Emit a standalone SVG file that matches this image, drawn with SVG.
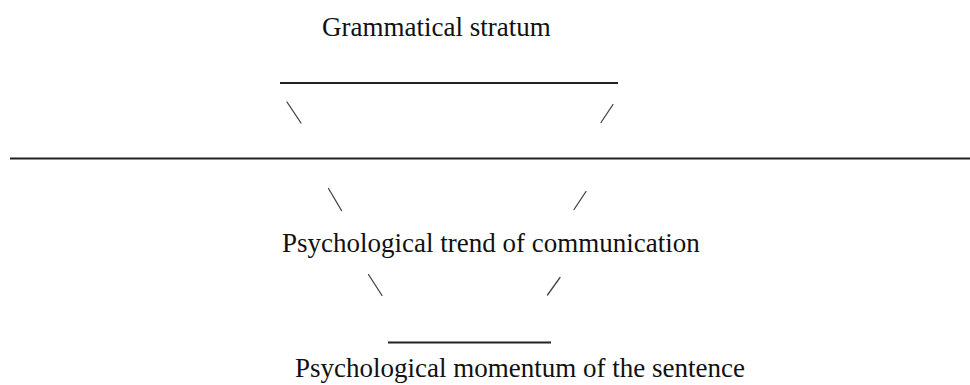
<svg xmlns="http://www.w3.org/2000/svg" width="970" height="385" viewBox="0 0 970 385">
<style>
  .t { font-family: "Liberation Serif", "Times New Roman", serif; font-size: 27px; fill: #111; }
  .rule { stroke: #222; stroke-width: 2; fill: none; }
  .slant { stroke: #444; stroke-width: 1.3; fill: none; stroke-linecap: round; }
</style>
<rect width="970" height="385" fill="#fff"/>
<g id="grammatical-stratum">
  <text class="t" x="322" y="36">Grammatical stratum</text>
  <line class="rule" x1="280" y1="83" x2="618" y2="83"/>
</g>
<g id="divider">
  <line class="rule" x1="10" y1="158.5" x2="970" y2="158.5"/>
</g>
<g id="psychological-trend">
  <text class="t" x="282" y="252">Psychological trend of communication</text>
</g>
<g id="psychological-momentum">
  <line class="rule" x1="388" y1="342.5" x2="551" y2="342.5"/>
  <text class="t" x="295" y="377">Psychological momentum of the sentence</text>
</g>
<g id="connectors">
  <line class="slant" x1="287" y1="102" x2="301" y2="123"/>
  <line class="slant" x1="613" y1="104.5" x2="601" y2="122.5"/>
  <line class="slant" x1="328.5" y1="188.5" x2="341.5" y2="210.5"/>
  <line class="slant" x1="586" y1="191.5" x2="574" y2="209.5"/>
  <line class="slant" x1="368.5" y1="274.5" x2="382" y2="295.5"/>
  <line class="slant" x1="560" y1="277.5" x2="547.5" y2="295"/>
</g>
</svg>
